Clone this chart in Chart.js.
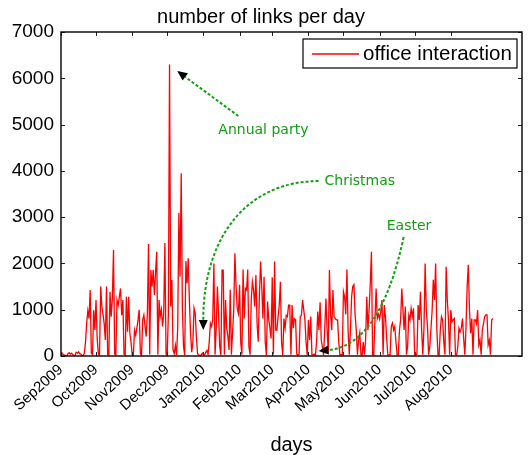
<!DOCTYPE html>
<html>
<head>
<meta charset="utf-8">
<script src="https://cdn.jsdelivr.net/npm/chart.js@4.4.1/dist/chart.umd.min.js"></script>
<style>
  body { margin: 0; background: #fff; }
  canvas { display: block; }
</style>
</head>
<body>
<canvas id="linksChart" width="531" height="455"></canvas>
<script>
// x axis: days counted from 1 Sep 2009
const monthStarts = [0, 30, 61, 91, 122, 153, 181, 212, 242, 273, 303, 334];
const monthLabels = ['Sep2009', 'Oct2009', 'Nov2009', 'Dec2009', 'Jan2010', 'Feb2010',
                     'Mar2010', 'Apr2010', 'May2010', 'Jun2010', 'Jul2010', 'Aug2010'];
const yTicks = [0, 1000, 2000, 3000, 4000, 5000, 6000, 7000];

// links per day, one array per month
const sep09 = [40, 60, 30, 20, 10, 10, 50, 70, 40, 60, 30, 10, 10, 80, 60, 90, 50, 40, 10, 10,
               60, 300, 710, 980, 810, 1425, 60, 30, 990, 560];
const oct09 = [1210, 380, 40, 20, 1500, 1070, 900, 700, 345, 1500, 30, 20, 1390, 850, 1245, 2290,
               40, 20, 1210, 1100, 1280, 1460, 880, 1210, 40, 20, 1280, 525, 1280, 490, 300];
const nov09 = [30, 20, 560, 450, 600, 780, 1000, 50, 20, 780, 885, 650, 420, 900, 2420, 30,
               1860, 1500, 1860, 1320, 1800, 2250, 30, 1210, 850, 1000, 640, 900, 2440, 40];
const dec09 = [20, 900, 6300, 1070, 1640, 130, 50, 230, 20, 600, 3090, 1710, 3950, 1030, 200, 20,
               2050, 1570, 2110, 1210, 500, 80, 300, 1030, 920, 420, 50, 20, 10, 20, 60];
const jan10 = [30, 20, 80, 120, 40, 300, 710, 640, 780, 2000, 30, 600, 1500, 920, 200, 20,
               1855, 1855, 30, 1210, 600, 420, 130, 1430, 30, 500, 990, 2220, 1500, 1030, 920];
const feb10 = [1540, 300, 30, 1870, 810, 1460, 1425, 1870, 200, 30, 1210, 1605, 1425, 1070,
               1750, 700, 310, 1320, 2040, 1500, 810, 1710, 300, 20, 1175, 780, 600, 380];
const mar10 = [1700, 30, 2040, 560, 560, 850, 1100, 1605, 300, 20, 810, 600, 880, 850, 1100, 1100,
               30, 1100, 600, 810, 780, 40, 20, 30, 850, 880, 1210, 990, 780, 300, 20];
const apr10 = [780, 345, 850, 30, 20, 40, 20, 300, 960, 560, 1160, 345, 200, 20, 600, 1240,
               560, 100, 1860, 900, 560, 1425, 850, 810, 780, 780, 300, 20, 30, 20];
const may10 = [1390, 1280, 900, 1870, 560, 30, 560, 1280, 1500, 1540, 900, 560, 30, 345, 500, 30,
               20, 300, 30, 345, 1280, 560, 1000, 1570, 2250, 30, 20, 780, 1460, 810, 900];
const jun10 = [800, 960, 1210, 30, 1100, 850, 400, 30, 20, 30, 640, 710, 560, 640, 300, 30,
               20, 560, 780, 1460, 1000, 560, 1070, 30, 200, 880, 780, 1030, 850, 1030];
const jul10 = [30, 20, 40, 1100, 780, 1390, 560, 30, 600, 2000, 990, 640, 30, 200, 600, 990,
               1645, 1210, 2000, 600, 30, 20, 560, 850, 780, 300, 30, 1930, 1210, 780, 30];
const aug10 = [990, 740, 780, 810, 30, 20, 200, 600, 520, 600, 810, 380, 30, 600, 1500, 1970,
               990, 490, 810, 30, 780, 780, 700, 990, 240, 345, 30, 560, 700, 850, 890];
const sep10 = [890, 240, 345, 30, 780, 810];

const links = [].concat(sep09, oct09, nov09, dec09, jan10, feb10, mar10,
                        apr10, may10, jun10, jul10, aug10, sep10);

// annotations, anchored in data coordinates (day, links)
const notes = [
    { text: 'Annual party', at: [134.8, 4882], path: [[152, 5184], [99.6, 6156]] },
    { text: 'Christmas', at: [225.8, 3780], path: [[220.7, 3780], [162, 3780], [121.9, 2650], [121.9, 562]] },
    { text: 'Easter', at: [279.1, 2808], path: [[293.6, 2570], [273.9, 238], [220.7, 108]] }
];

const sansFont = 'Liberation Sans, Arial, Helvetica, sans-serif';
const green = '#11a011';

// box, inward ticks, legend and annotations
const framePlugin = {
    id: 'frame',
    afterDatasetsDraw(chart) {
        const { ctx, chartArea: a, scales: { x, y } } = chart;
        ctx.save();

        // inward tick marks
        ctx.strokeStyle = '#222';
        ctx.lineWidth = 1;
        ctx.beginPath();
        x.ticks.forEach(t => {
            const px = Math.round(x.getPixelForValue(t.value)) + 0.5;
            ctx.moveTo(px, a.bottom); ctx.lineTo(px, a.bottom - 4);
            ctx.moveTo(px, a.top); ctx.lineTo(px, a.top + 4);
        });
        y.ticks.forEach(t => {
            const py = Math.round(y.getPixelForValue(t.value)) + 0.5;
            ctx.moveTo(a.left, py); ctx.lineTo(a.left + 4, py);
            ctx.moveTo(a.right, py); ctx.lineTo(a.right - 4, py);
        });
        ctx.stroke();

        // axes box
        ctx.strokeStyle = '#000';
        ctx.lineWidth = 1.4;
        ctx.strokeRect(a.left, a.top, a.right - a.left, a.bottom - a.top);

        // legend
        const lw = 214, lh = 29;
        const lx = a.right - 5 - lw, ly = a.top + 7;
        ctx.fillStyle = '#fff';
        ctx.fillRect(lx, ly, lw, lh);
        ctx.strokeStyle = '#000';
        ctx.lineWidth = 1.2;
        ctx.strokeRect(lx, ly, lw, lh);
        ctx.beginPath();
        ctx.strokeStyle = chart.data.datasets[0].borderColor;
        ctx.lineWidth = 1.5;
        ctx.moveTo(lx + 9, Math.round(ly + lh / 2));
        ctx.lineTo(lx + 56, Math.round(ly + lh / 2));
        ctx.stroke();
        ctx.fillStyle = '#000';
        ctx.font = '20.5px ' + sansFont;
        ctx.textBaseline = 'middle';
        ctx.textAlign = 'left';
        ctx.fillText(chart.data.datasets[0].label, lx + 60, ly + lh / 2 + 1);

        // annotations
        notes.forEach(n => {
            const pts = n.path.map(p => [x.getPixelForValue(p[0]), y.getPixelForValue(p[1])]);
            const tip = pts[pts.length - 1];
            const prev = pts[pts.length - 2];
            const ang = Math.atan2(tip[1] - prev[1], tip[0] - prev[0]);
            const headLen = 10, headW = 4.5;
            const base = [tip[0] - headLen * Math.cos(ang), tip[1] - headLen * Math.sin(ang)];

            ctx.strokeStyle = green;
            ctx.lineWidth = 2;
            ctx.setLineDash([3, 2]);
            ctx.beginPath();
            ctx.moveTo(pts[0][0], pts[0][1]);
            if (pts.length === 2) {
                ctx.lineTo(base[0], base[1]);
            } else if (pts.length === 3) {
                ctx.quadraticCurveTo(pts[1][0], pts[1][1], base[0], base[1]);
            } else {
                ctx.bezierCurveTo(pts[1][0], pts[1][1], pts[2][0], pts[2][1], base[0], base[1]);
            }
            ctx.stroke();
            ctx.setLineDash([]);

            ctx.fillStyle = '#000';
            ctx.beginPath();
            ctx.moveTo(tip[0], tip[1]);
            ctx.lineTo(base[0] + headW * Math.sin(ang), base[1] - headW * Math.cos(ang));
            ctx.lineTo(base[0] - headW * Math.sin(ang), base[1] + headW * Math.cos(ang));
            ctx.closePath();
            ctx.fill();

            ctx.fillStyle = green;
            ctx.font = '14px DejaVu Sans, sans-serif';
            ctx.textAlign = 'left';
            ctx.textBaseline = 'middle';
            ctx.fillText(n.text, x.getPixelForValue(n.at[0]), y.getPixelForValue(n.at[1]));
        });

        ctx.restore();
    }
};

const ctx = document.getElementById('linksChart').getContext('2d');
const linksChart = new Chart(ctx, {
    type: 'line',
    data: {
        datasets: [{
            label: 'office interaction',
            data: links.map((v, i) => ({ x: i, y: v })),
            borderColor: '#ff0000',
            borderWidth: 1.3,
            pointRadius: 0,
            tension: 0,
            fill: false
        }]
    },
    options: {
        responsive: false,
        animation: false,
        devicePixelRatio: 1,
        layout: { padding: { left: 0, right: 9, top: 0, bottom: 0 } },
        plugins: {
            legend: { display: false },
            tooltip: { enabled: false },
            title: {
                display: true,
                text: 'number of links per day',
                color: '#000',
                font: { family: sansFont, size: 20, weight: 'normal', lineHeight: 1.2 },
                padding: { top: 5, bottom: 3 }
            }
        },
        scales: {
            x: {
                type: 'linear',
                min: 0,
                max: 395,
                grid: { display: false, drawTicks: false },
                border: { display: false },
                afterBuildTicks: scale => {
                    scale.ticks = monthStarts.map(v => ({ value: v }));
                },
                afterFit: scale => { scale.height = 99; },
                ticks: {
                    autoSkip: false,
                    minRotation: 42,
                    maxRotation: 42,
                    padding: 5,
                    color: '#000',
                    font: { family: sansFont, size: 15 },
                    callback: value => monthLabels[monthStarts.indexOf(value)]
                },
                title: {
                    display: true,
                    text: 'days',
                    color: '#000',
                    font: { family: sansFont, size: 20 },
                    padding: { top: 0, bottom: -2 }
                }
            },
            y: {
                min: 0,
                max: 7000,
                grid: { display: false, drawTicks: false },
                border: { display: false },
                afterBuildTicks: scale => {
                    scale.ticks = yTicks.map(v => ({ value: v }));
                },
                afterFit: scale => { scale.width = 61; },
                ticks: {
                    padding: 7,
                    color: '#000',
                    font: { family: sansFont, size: 19 },
                    callback: value => String(value)
                }
            }
        }
    },
    plugins: [framePlugin]
});
</script>
</body>
</html>
